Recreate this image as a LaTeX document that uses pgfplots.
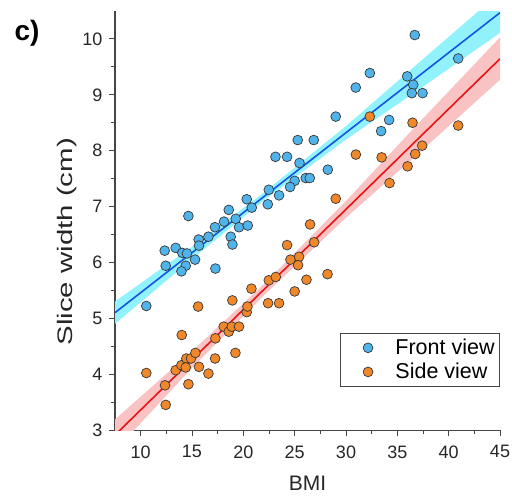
\documentclass[border=0pt]{standalone}
\usepackage{pgfplots}
\pgfplotsset{compat=1.18}
\usepackage{pgfplotstable}
\usepackage{fontspec}
\setmainfont{Liberation Sans}
\definecolor{ptblue}{RGB}{80,180,235}
\definecolor{ptorange}{RGB}{240,135,40}
\definecolor{ptedge}{RGB}{55,55,55}
\definecolor{lnblue}{RGB}{20,85,225}
\definecolor{bandblue}{RGB}{145,242,252}
\definecolor{lnred}{RGB}{232,20,20}
\definecolor{bandred}{RGB}{250,195,195}
\definecolor{axgray}{RGB}{70,70,70}

\pgfplotstableread{
x y
10.55 5.22
14.65 6.83
12.34 6.21
13.41 6.26
12.44 5.94
14.06 6.17
14.51 6.16
14.39 5.94
13.97 5.84
15.30 6.05
15.65 6.41
15.68 6.30
16.60 6.46
17.24 6.63
18.12 6.73
18.58 6.94
19.26 6.78
18.77 6.46
18.94 6.32
17.28 5.89
29.00 8.61
25.30 8.19
26.86 8.19
23.13 7.89
24.26 7.89
25.47 7.78
28.23 7.66
26.08 7.51
26.47 7.51
25.00 7.46
24.55 7.35
22.48 7.30
23.48 7.20
22.38 7.04
20.33 7.13
20.82 6.98
19.58 6.63
20.43 6.66
36.70 10.07
40.93 9.65
32.32 9.39
30.95 9.13
35.96 9.33
36.55 9.18
36.41 9.03
37.46 9.03
34.20 8.55
33.42 8.35
}\front

\pgfplotstableread{
x y
10.55 4.02
15.60 5.21
14.00 4.70
12.37 3.80
12.44 3.45
13.41 4.07
13.97 4.16
14.45 4.28
14.90 4.28
14.39 4.12
15.33 4.38
14.65 3.82
15.68 4.13
16.60 4.01
17.28 4.64
17.25 4.28
18.09 4.85
18.58 4.76
18.87 4.85
19.58 4.85
19.23 4.38
18.93 5.32
20.33 5.11
20.40 5.21
20.79 5.53
22.41 5.27
23.48 5.27
22.48 5.68
23.16 5.74
24.26 6.31
24.59 6.05
25.43 6.10
25.33 5.95
25.00 5.48
26.15 5.69
26.90 6.36
26.50 6.68
28.20 5.79
29.00 7.14
32.32 8.61
36.48 8.50
40.93 8.45
30.96 7.93
33.47 7.88
37.42 8.09
36.74 7.94
36.00 7.72
34.24 7.42
}\side

\begin{document}
\begin{tikzpicture}
\path[use as bounding box] (0,0) rectangle (512pt,499pt);
\node[font=\fontsize{28}{32}\selectfont\bfseries] at (27pt,466pt) {c)};
\begin{axis}[
  at={(115pt,69pt)}, anchor=south west,
  scale only axis, width=385pt, height=419pt,
  xmin=7.5, xmax=45, ymin=3, ymax=10.5,
  axis lines=left,
  axis line style={-, draw=axgray, line width=1pt},
  every tick/.style={draw=axgray, line width=1pt},
  tick align=outside,
  major tick length=6pt, minor tick length=3.5pt,
  xtick={10,15,...,45}, ytick={3,4,...,10},
  minor x tick num=1, minor y tick num=1,
  /pgf/number format/assume math mode=true,
  tick label style={font=\fontsize{18}{21}\selectfont, text=black!85},
  yticklabel style={xshift=-3pt},
  xticklabel style={yshift=-6pt},
  xlabel={BMI}, ylabel={\scalebox{1.4}[1]{Slice width (cm)}},
  label style={font=\fontsize{21}{25}\selectfont, text=black!85},
  xlabel style={at={(axis description cs:0.5,-0.126)}, anchor=center},
  ylabel style={at={(axis description cs:-0.125,0.449)}, anchor=center},
  legend style={at={(axis description cs:1,0.103)}, anchor=south east,
    draw=axgray, line width=0.8pt, font=\fontsize{21.5}{26}\selectfont,
    inner xsep=3pt, inner ysep=4pt, row sep=3pt},
  legend cell align=left,
  legend image code/.code={\path (-13pt,0pt) (36pt,0pt); \draw[#1] plot coordinates {(11pt,0pt)};},
]
% confidence bands
\addplot[fill=bandblue, draw=none, forget plot] coordinates {
 (7.5,5.30) (15,6.28) (22,7.25) (30,8.44) (37,9.56) (45,10.83)
 (45,10.11) (37,9.08) (30,8.20) (22,7.11) (15,6.06) (7.5,4.90)} -- cycle;
\addplot[fill=bandred, draw=none, forget plot] coordinates {
 (7.5,3.19) (15,4.41) (22,5.61) (30,7.10) (37,8.48) (45,10.03)
 (45,9.27) (37,7.94) (30,6.80) (22,5.41) (15,4.11) (7.5,2.63)} -- cycle;
% fit lines
\addplot[lnblue, line width=1.6pt, forget plot] coordinates {(7.5,5.10) (45,10.47)};
\addplot[lnred, line width=1.6pt, forget plot] coordinates {(7.5,2.91) (45,9.645)};
% points
\addplot[only marks, mark=*, mark size=4.9pt, mark options={fill=ptblue, draw=ptedge, line width=0.7pt}] table[x=x,y=y] {\front};
\addlegendentry{Front view}
\addplot[only marks, mark=*, mark size=4.9pt, mark options={fill=ptorange, draw=ptedge, line width=0.7pt}] table[x=x,y=y] {\side};
\addlegendentry{Side view}
\end{axis}
\end{tikzpicture}
\end{document}
